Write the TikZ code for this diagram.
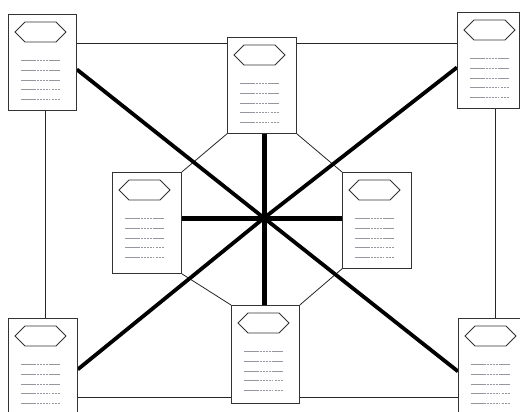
\documentclass[tikz,border=0pt]{standalone}
\usetikzlibrary{calc}
\definecolor{txtgray}{RGB}{150,152,160}
\tikzset{
  docnode/.style={draw=black!80, fill=white, line width=0.8pt, anchor=north west, minimum height=96pt, inner sep=0pt},
  hexline/.style={draw=black!80, line width=0.9pt, line join=miter},
  txtline/.style={draw=txtgray, line width=0.7pt, dash pattern=on 2.6pt off 0.5pt},
  thinline/.style={draw=black!85, line width=0.8pt},
  diagline/.style={draw=black, line width=3.8pt},
  crossline/.style={draw=black, line width=5pt}
}
\newcommand\docbox[4]{%
  \node[docnode, minimum width=#4] (#1) at (#2,#3) {};
  \begin{scope}[shift={(#2,#3)}]
    \draw[hexline] (7,18) -- (17,8) -- (48,8) -- (58,18) -- (48,28) -- (17,28) -- cycle;
    \draw[txtline] (13,46) -- (52,46);
    \draw[txtline] (13,56) -- (52,56);
    \draw[txtline] (13,66) -- (52,66);
    \draw[txtline] (13,75.5) -- (41,75.5);
    \draw[txtline] (43.5,75.5) -- (52,75.5);
    \draw[txtline] (13,85) -- (41,85);
    \draw[txtline] (43.5,85) -- (52,85);
  \end{scope}}
\begin{document}
\begin{tikzpicture}[x=1pt,y=-1pt]
\useasboundingbox[fill=white] (0,0) rectangle (520,412);
% nodes (placed first to get anchors; redrawn on top later)
\begin{scope}[opacity=0]
\node[docnode, minimum width=68pt] (tl) at (8,14) {};
\node[docnode, minimum width=69pt] (tc) at (227,37) {};
\node[docnode, minimum width=62pt] (tr) at (457,12) {};
\node[docnode, minimum width=69pt, minimum height=101pt] (lm) at (112,172) {};
\node[docnode, minimum width=69pt] (rm) at (342,172) {};
\node[docnode, minimum width=68pt, minimum height=98pt] (bc) at (231,305) {};
\node[docnode, minimum width=69pt, minimum height=100pt] (bl) at (8,318) {};
\node[docnode, minimum width=62pt, minimum height=100pt] (br) at (458,318) {};
\end{scope}
\coordinate (c) at (264,218);
% outer frame
\draw[thinline] (tl.east |- 0,43) -- (tr.west |- 0,43);
\draw[thinline] (bl.east |- 0,397) -- (br.west |- 0,397);
\draw[thinline] (tl.south -| 45,0) -- (bl.north -| 45,0);
\draw[thinline] (tr.south -| 495,0) -- (br.north -| 495,0);
% octagon
\draw[thinline] (tc.south west) -- (lm.north east);
\draw[thinline] (tc.south east) -- (rm.north west);
\draw[thinline] (lm.south east) -- (bc.north west);
\draw[thinline] (rm.south west) -- (bc.north east);
% diagonals
\draw[diagline] ([yshift=-7pt]tl.east) -- (c) -- ([yshift=-3pt]br.west);
\draw[diagline] ([yshift=-7pt]tr.west) -- (c) -- ([yshift=-1pt]bl.east);
% cross
\draw[crossline] (tc.south -| c) -- (bc.north -| c);
\draw[crossline] (lm.east |- c) -- (rm.west |- c);
% documents
\docbox{tl}{8}{14}{68pt}
\docbox{tc}{227}{37}{69pt}
\docbox{tr}{457}{12}{62pt}
\begin{scope}
\tikzset{docnode/.append style={minimum height=101pt}}
\docbox{lm}{112}{172}{69pt}
\end{scope}
\docbox{rm}{342}{172}{69pt}
\begin{scope}
\tikzset{docnode/.append style={minimum height=98pt}}
\docbox{bc}{231}{305}{68pt}
\end{scope}
\begin{scope}
\tikzset{docnode/.append style={minimum height=100pt}}
\docbox{bl}{8}{318}{69pt}
\docbox{br}{458}{318}{62pt}
\end{scope}
\end{tikzpicture}
\end{document}
